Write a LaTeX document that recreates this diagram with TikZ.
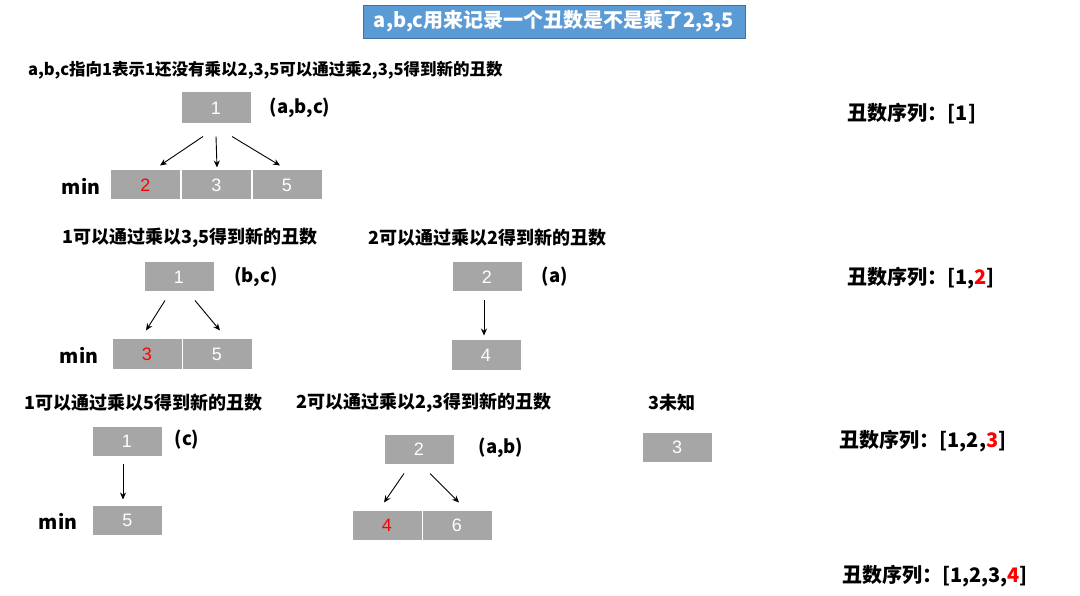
\documentclass[tikz,border=0pt]{standalone}
\usepackage{fontspec}
\setmainfont{Noto Sans CJK SC}
\newfontfamily\boxfont{Liberation Sans}
\usetikzlibrary{arrows.meta}
\definecolor{boxgray}{HTML}{A6A6A6}
\definecolor{titleblue}{HTML}{5B9BD5}
\definecolor{titleedge}{HTML}{41719C}
\begin{document}
\begin{tikzpicture}[x=1pt,y=-1pt,
  cell/.style={rectangle,fill=boxgray,draw=white,line width=1pt,minimum width=70pt,minimum height=30pt,inner sep=0pt,text=white,font=\boxfont\fontsize{18}{20}\selectfont},
  lbl/.style={inner sep=0pt,font=\bfseries\fontsize{18}{20}\selectfont},
  seq/.style={inner sep=0pt,font=\bfseries\fontsize{20}{22}\selectfont},
  arr/.style={-{Stealth[length=7pt,width=6pt]},line width=0.9pt}]
\useasboundingbox (0,0) rectangle (1080,596);
% title
\node[rectangle,fill=titleblue,draw=titleedge,line width=0.8pt,minimum width=382pt,minimum height=33pt,inner sep=0pt,text=white,font=\bfseries\fontsize{20}{22}\selectfont] (title) at (554,21.5) {a,b,c用来记录一个丑数是不是乘了2,3,5};

% section 1
\node[lbl,anchor=west,font=\bfseries\fontsize{16.5}{19}\selectfont] (t1) at (28,70) {a,b,c指向1表示1还没有乘以2,3,5可以通过乘2,3,5得到新的丑数};
\node[cell,minimum height=32pt] (a1) at (216,108) {1};
\node[lbl,font=\bfseries\fontsize{18.5}{20}\selectfont] (a1l) at (300,108) {(a,b,c)};
\node[cell] (a2) at (145.5,185) {\textcolor{red}{2}};
\node[cell] (a3) at (216.5,185) {3};
\node[cell] (a5) at (287,185) {5};
\node[lbl,font=\bfseries\fontsize{19.5}{21}\selectfont] (amin) at (81,186) {min};
\draw[arr] ([xshift=-13pt,yshift=-12pt]a1.south) -- ([xshift=14.5pt,yshift=4pt]a2.north);
\draw[arr] ([yshift=-12pt]a1.south) -- ([xshift=0.5pt,yshift=2pt]a3.north);
\draw[arr] ([xshift=16pt,yshift=-12pt]a1.south) -- ([xshift=-7pt,yshift=4pt]a5.north);
\node[seq] (s1) at (912,114) {丑数序列：[1]};

% section 2
\node[lbl,anchor=west] (t2) at (62,238) {1可以通过乘以3,5得到新的丑数};
\node[lbl,anchor=west] (t3) at (368,238) {2可以通过乘以2得到新的丑数};
\node[cell] (b1) at (179,277) {1};
\node[lbl,font=\bfseries\fontsize{18.5}{20}\selectfont] (b1l) at (256,277) {(b,c)};
\node[cell] (b3) at (147,354) {\textcolor{red}{3}};
\node[cell] (b5) at (217,354) {5};
\node[lbl,font=\bfseries\fontsize{19.5}{21}\selectfont] (bmin) at (79,355) {min};
\draw[arr] ([xshift=-14pt,yshift=-8pt]b1.south) -- ([xshift=-1pt,yshift=8pt]b3.north);
\draw[arr] ([xshift=16pt,yshift=-8pt]b1.south) -- ([xshift=3pt,yshift=8pt]b5.north);
\node[cell] (b2) at (487,277) {2};
\node[lbl,font=\bfseries\fontsize{18.5}{20}\selectfont] (b2l) at (555,277) {(a)};
\node[cell] (b4) at (486,355) {4};
\draw[arr] ([xshift=-3pt,yshift=-8pt]b2.south) -- ([xshift=-2pt,yshift=4pt]b4.north);
\node[seq] (s2) at (921,278) {丑数序列：[1,\textcolor{red}{2}]};

% section 3
\node[lbl,anchor=west] (t4) at (24,403) {1可以通过乘以5得到新的丑数};
\node[lbl,anchor=west] (t5) at (296,403) {2可以通过乘以2,3得到新的丑数};
\node[lbl] (t6) at (672,403) {3未知};
\node[cell] (c1) at (127,441) {1};
\node[lbl,font=\bfseries\fontsize{18.5}{20}\selectfont] (c1l) at (187,440) {(c)};
\node[cell] (c5) at (127.5,520) {5};
\node[lbl,font=\bfseries\fontsize{19.5}{21}\selectfont] (cmin) at (58,521) {min};
\draw[arr] ([xshift=-4pt,yshift=-7pt]c1.south) -- ([xshift=-4.5pt,yshift=5pt]c5.north);
\node[cell] (c2) at (419,449) {2};
\node[lbl,font=\bfseries\fontsize{18.5}{20}\selectfont] (c2l) at (501,448) {(a,b)};
\node[cell] (c4) at (387,525) {\textcolor{red}{4}};
\node[cell] (c6) at (457,525) {6};
\draw[arr] ([xshift=-15pt,yshift=-9pt]c2.south) -- ([xshift=-3pt,yshift=7pt]c4.north);
\draw[arr] ([xshift=11pt,yshift=-9pt]c2.south) -- ([xshift=2pt,yshift=7pt]c6.north);
\node[cell] (c3) at (677,447) {3};
\node[seq] (s3) at (923,441) {丑数序列：[1,2,\textcolor{red}{3}]};
\node[seq] (s4) at (935,576) {丑数序列：[1,2,3,\textcolor{red}{4}]};
\end{tikzpicture}
\end{document}
